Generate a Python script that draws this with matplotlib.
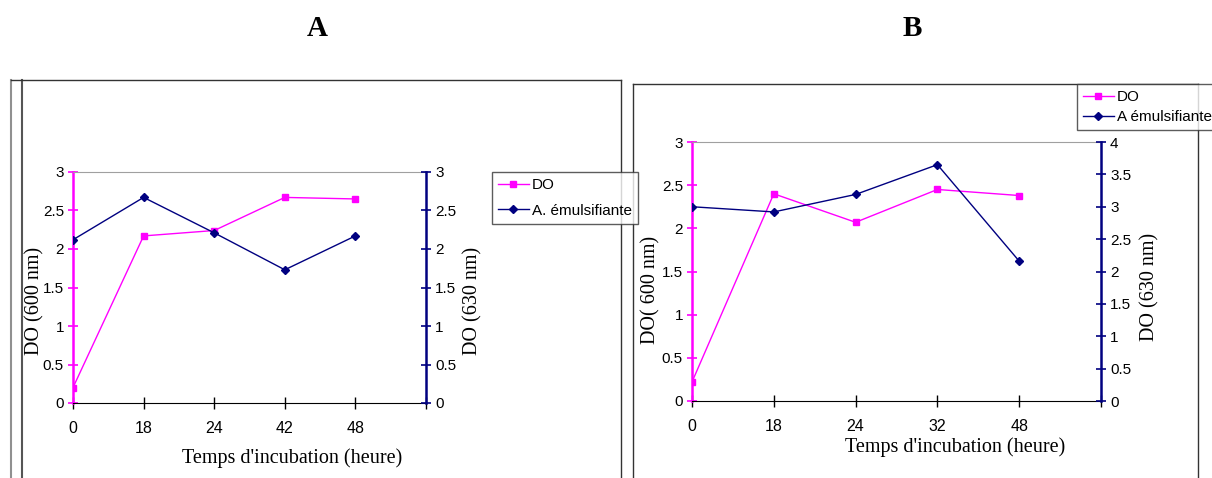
import matplotlib
matplotlib.use("Agg")
import matplotlib.pyplot as plt
from matplotlib.lines import Line2D

# data
hours_a = ['0', '18', '24', '42', '48']
do_a = [0.20, 2.17, 2.24, 2.67, 2.65]
emul_a = [2.12, 2.67, 2.21, 1.73, 2.17]

hours_b = ['0', '18', '24', '32', '48']
do_b = [0.22, 2.40, 2.07, 2.45, 2.38]
emul_b = [3.00, 2.92, 3.19, 3.65, 2.16]

PINK = '#FF00FF'
NAVY = '#000080'
W, H = 1212, 478

plt.rcParams['font.family'] = ['Liberation Sans', 'DejaVu Sans']
SERIF = ['Liberation Serif', 'DejaVu Serif']

fig = plt.figure(figsize=(W / 100, H / 100), dpi=100)


def box(x0, y0, x1, y1):
    # pixel box -> figure fraction rect
    return [x0 / W, 1 - y1 / H, (x1 - x0) / W, (y1 - y0) / H]


def fline(xs, ys, color='#333333', lw=1.0):
    fig.add_artist(Line2D([x / W for x in xs], [1 - y / H for y in ys],
                          transform=fig.transFigure, color=color, lw=lw))


def panel(rect, hours, do, emul, ymax2, xlab_pos, ylab_pos, ylab2_pos, left_label,
          emul_name, leg_xy, leg_spacing):
    ax = fig.add_axes(rect)
    ax2 = ax.twinx()
    x = list(range(len(hours)))
    ax.plot(x, do, color=PINK, lw=1.0, marker='s', ms=5, label='DO')
    ax2.plot(x, emul, color=NAVY, lw=1.0, marker='D', ms=4.5, label=emul_name)

    ax.set_xlim(0, len(hours))
    ax.set_ylim(0, 3)
    ax2.set_ylim(0, ymax2)
    ax.set_xticks(range(len(hours) + 1))
    ax.set_xticklabels(hours + [''])
    ax.set_yticks([0, 0.5, 1, 1.5, 2, 2.5, 3])
    ax.set_yticklabels(['0', '0.5', '1', '1.5', '2', '2.5', '3'])
    ticks2 = [i * 0.5 for i in range(int(ymax2 * 2) + 1)]
    ax2.set_yticks(ticks2)
    ax2.set_yticklabels(['%g' % t for t in ticks2])

    ax.tick_params(axis='x', direction='inout', length=8, width=1, labelsize=11.5, pad=9)
    ax.tick_params(axis='y', direction='inout', length=7, width=1.2, color=PINK, labelsize=11, pad=3)
    ax2.tick_params(axis='y', direction='inout', length=7, width=1.2, color=NAVY, labelsize=11, pad=3)

    for s in ['left', 'right', 'top']:
        ax.spines[s].set_visible(s != 'right')
    ax.spines['left'].set_color(PINK)
    ax.spines['left'].set_linewidth(1.8)
    ax.spines['top'].set_color('#A0A0A0')
    ax.spines['bottom'].set_color('black')
    for s in ['left', 'top', 'bottom']:
        ax2.spines[s].set_visible(False)
    ax2.spines['right'].set_color(NAVY)
    ax2.spines['right'].set_linewidth(1.8)

    ax.set_xlabel("Temps d'incubation (heure)", family=SERIF, fontsize=14.5)
    ax.xaxis.set_label_coords(*xlab_pos)
    ax.set_ylabel(left_label, family=SERIF, fontsize=14.5)
    ax.yaxis.set_label_coords(*ylab_pos)
    ax2.set_ylabel('DO (630 nm)', family=SERIF, fontsize=14.5)
    ax2.yaxis.set_label_coords(*ylab2_pos)

    handles = ax.get_lines()[:1] + ax2.get_lines()[:1]
    leg = fig.legend(handles, [h.get_label() for h in handles],
                     loc='upper left', bbox_to_anchor=(leg_xy[0] / W, 1 - leg_xy[1] / H),
                     fontsize=11, frameon=True, fancybox=False, edgecolor='#333333',
                     handlelength=2.0, handletextpad=0.2, borderpad=0.4,
                     labelspacing=leg_spacing, borderaxespad=0)
    leg.get_frame().set_linewidth(1.0)
    return ax


# outer frames
fline([11, 11], [80, H], color='#909090', lw=1.5)
fline([22, 22], [80, H], color='#555555', lw=1.5)
fline([11, 621], [80, 80])
fline([621, 621], [80, H])
fline([633, 1198], [84, 84])
fline([633, 633], [84, H])
fline([1198, 1198], [84, H])

fig.text(317 / W, 1 - 28 / H, 'A', family=SERIF, fontsize=21, fontweight='bold',
         ha='center', va='center')
fig.text(912 / W, 1 - 28 / H, 'B', family=SERIF, fontsize=21, fontweight='bold',
         ha='center', va='center')

panel(box(73, 172, 426, 403), hours_a, do_a, emul_a, 3,
      (0.62, -0.195), (-0.082, 0.44), (1.105, 0.44), 'DO (600 nm)', 'A. émulsifiante',
      (492, 172), 0.75)
panel(box(692, 142, 1101, 401), hours_b, do_b, emul_b, 4,
      (0.643, -0.139), (-0.076, 0.43), (1.095, 0.44), 'DO( 600 nm)', 'A émulsifiante',
      (1077, 84), 0.4)

fig.savefig('out.png', dpi=100)
